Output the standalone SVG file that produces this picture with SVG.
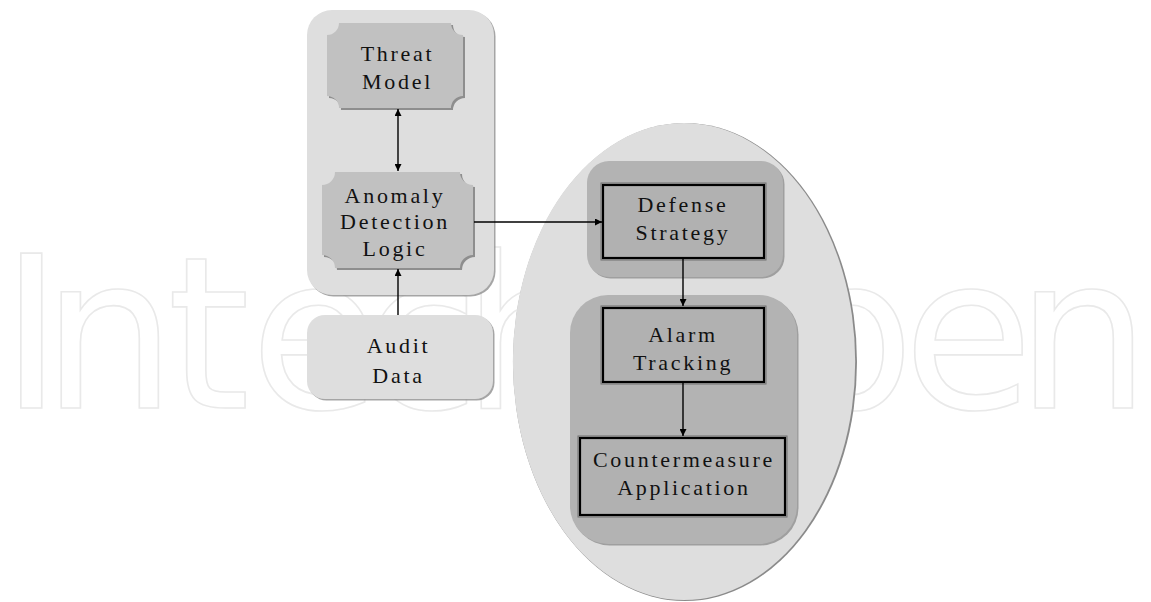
<svg xmlns="http://www.w3.org/2000/svg" width="1151" height="602" viewBox="0 0 1151 602">
  <defs>
    <style>
      .lbl { font-family: "Liberation Serif", "Times New Roman", serif; font-size: 22px; letter-spacing: 2.7px; fill: #111; text-anchor: middle; }
      .wm { font-family: "DejaVu Sans", sans-serif; font-size: 212px; fill: none; stroke: #e9e9e9; stroke-width: 1.6; }
      .light { fill: #dedede; }
      .mid { fill: #b3b3b3; }
      .plaque { fill: #c1c1c1; }
      .shadow { fill: #8e8e8e; }
      .box { fill: #b1b1b1; stroke: #000; stroke-width: 2.2; }
      .boxout { fill: none; stroke: #707070; stroke-width: 1; }
      .conn { stroke: #000; stroke-width: 1.4; fill: none; }
    </style>
    <marker id="ah" viewBox="0 0 10 10" refX="10" refY="5" markerWidth="7" markerHeight="7" markerUnits="userSpaceOnUse" orient="auto-start-reverse">
      <path d="M0,0 L10,5 L0,10 Z" fill="#000"/>
    </marker>
  </defs>

  <rect width="1151" height="602" fill="#fff"/>

  <!-- watermark -->
  <g id="watermark">
    <text class="wm" y="408" x="0 42 167 250 363 462 575 780 903 1016">IntechOpen</text>
  </g>

  <!-- left container -->
  <g id="threat-container">
    <rect x="308.5" y="11.5" width="187" height="285" rx="25" class="shadow" fill-opacity="0.8"/>
    <rect x="307" y="10" width="187" height="285" rx="25" class="light"/>
  </g>

  <g id="threat-model">
    <path transform="translate(2,2)" class="shadow" d="M339,23 H451 A12,12 0 0 0 463,35 V96 A12,12 0 0 0 451,108 H339 A12,12 0 0 0 327,96 V35 A12,12 0 0 0 339,23 Z"/>
    <path class="plaque" d="M339,23 H451 A12,12 0 0 0 463,35 V96 A12,12 0 0 0 451,108 H339 A12,12 0 0 0 327,96 V35 A12,12 0 0 0 339,23 Z"/>
    <text class="lbl" x="397.5" y="61">Threat</text>
    <text class="lbl" x="397.5" y="89">Model</text>
  </g>

  <g id="anomaly-detection">
    <path transform="translate(2,2)" class="shadow" d="M335,172 H460 A13,13 0 0 0 473,185 V255 A13,13 0 0 0 460,268 H335 A13,13 0 0 0 322,255 V185 A13,13 0 0 0 335,172 Z"/>
    <path class="plaque" d="M335,172 H460 A13,13 0 0 0 473,185 V255 A13,13 0 0 0 460,268 H335 A13,13 0 0 0 322,255 V185 A13,13 0 0 0 335,172 Z"/>
    <text class="lbl" x="395" y="203">Anomaly</text>
    <text class="lbl" x="395" y="229">Detection</text>
    <text class="lbl" x="395" y="256">Logic</text>
  </g>

  <g id="audit-data">
    <rect x="308.5" y="316.5" width="186" height="84" rx="18" class="shadow" fill-opacity="0.8"/>
    <rect x="307" y="315" width="186" height="84" rx="18" class="light"/>
    <text class="lbl" x="398.5" y="353">Audit</text>
    <text class="lbl" x="398.5" y="383">Data</text>
  </g>

  <!-- ellipse region -->
  <g id="response-region">
    <ellipse cx="685" cy="362" rx="172" ry="239" fill="#8a8a8a"/>
    <ellipse cx="684" cy="361.5" rx="171.2" ry="238.5" class="light"/>
  </g>

  <g id="defense-strategy">
    <rect x="588.5" y="162.5" width="196" height="116" rx="22" class="shadow" fill-opacity="0.8"/>
    <rect x="587" y="161" width="196" height="116" rx="22" class="mid"/>
    <rect x="601" y="183" width="165" height="77" class="boxout"/>
    <rect x="603" y="185" width="161" height="73" class="box"/>
    <text class="lbl" x="683" y="212">Defense</text>
    <text class="lbl" x="683" y="240">Strategy</text>
  </g>

  <g id="tracking-container">
    <rect x="571.5" y="296.5" width="227" height="249" rx="38" class="shadow" fill-opacity="0.8"/>
    <rect x="570" y="295" width="227" height="249" rx="38" class="mid"/>
  </g>

  <g id="alarm-tracking">
    <rect x="601" y="306" width="165" height="78" class="boxout"/>
    <rect x="603" y="308" width="161" height="74" class="box"/>
    <text class="lbl" x="683" y="342">Alarm</text>
    <text class="lbl" x="683" y="370">Tracking</text>
  </g>

  <g id="countermeasure-application">
    <rect x="578" y="436" width="209" height="81" class="boxout"/>
    <rect x="580" y="438" width="205" height="77" class="box"/>
    <text class="lbl" x="684" y="467">Countermeasure</text>
    <text class="lbl" x="684" y="495">Application</text>
  </g>

  <!-- connectors -->
  <g id="connectors">
    <line class="conn" x1="398" y1="109" x2="398" y2="171" marker-start="url(#ah)" marker-end="url(#ah)"/>
    <line class="conn" x1="398" y1="315" x2="398" y2="269" marker-end="url(#ah)"/>
    <line class="conn" x1="474" y1="222" x2="602" y2="222" marker-end="url(#ah)"/>
    <line class="conn" x1="683" y1="259" x2="683" y2="306" marker-end="url(#ah)"/>
    <line class="conn" x1="683" y1="383" x2="683" y2="436" marker-end="url(#ah)"/>
  </g>
</svg>
